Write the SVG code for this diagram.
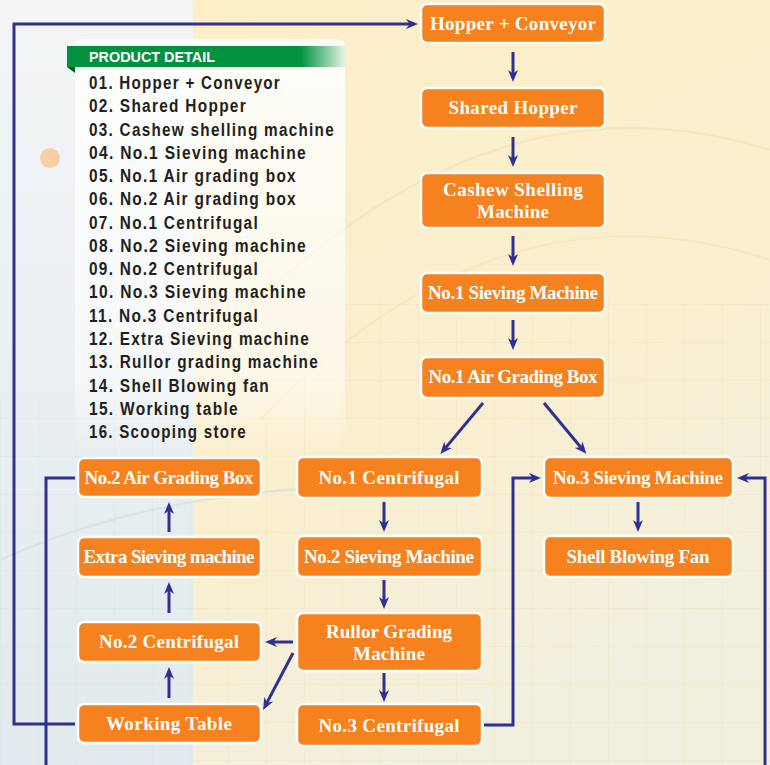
<svg xmlns="http://www.w3.org/2000/svg" width="770" height="765" viewBox="0 0 770 765">
<defs>
<linearGradient id="bgL" x1="0" y1="0" x2="0" y2="1">
<stop offset="0" stop-color="#F3F5F6"/>
<stop offset="0.6" stop-color="#E8EEF1"/>
<stop offset="1" stop-color="#E2EAEE"/>
</linearGradient>
<linearGradient id="bgR" x1="0" y1="0" x2="0.4" y2="1">
<stop offset="0" stop-color="#FDEEC6"/>
<stop offset="0.6" stop-color="#FAEFCF"/>
<stop offset="1" stop-color="#F1F0DF"/>
</linearGradient>
<linearGradient id="panel" x1="0" y1="0" x2="0" y2="1">
<stop offset="0" stop-color="#FFFFFF" stop-opacity="0.9"/>
<stop offset="0.8" stop-color="#FFFFFF" stop-opacity="0.55"/>
<stop offset="1" stop-color="#FFFFFF" stop-opacity="0"/>
</linearGradient>
<linearGradient id="hdr" x1="67" y1="0" x2="345" y2="0" gradientUnits="userSpaceOnUse">
<stop offset="0" stop-color="#00923F"/>
<stop offset="0.84" stop-color="#00923F"/>
<stop offset="1" stop-color="#00923F" stop-opacity="0.1"/>
</linearGradient>
<marker id="ah" markerUnits="userSpaceOnUse" markerWidth="13" markerHeight="11" refX="4" refY="5.5" orient="auto">
<path d="M0,0.5 L12,5.5 L0,10.5 L3.5,5.5 Z" fill="#2E3192"/>
</marker>
<pattern id="grid" width="38" height="38" patternUnits="userSpaceOnUse">
<path d="M38,0 L0,0 L0,38" fill="none" stroke="#D8E2E6" stroke-width="1"/>
</pattern>
<pattern id="gridR" width="38" height="38" patternUnits="userSpaceOnUse">
<path d="M38,0 L0,0 L0,38" fill="none" stroke="#F1E3BC" stroke-width="1"/>
</pattern>
</defs>
<style>
.node rect{fill:#F5821F;stroke:#FFFFFF;stroke-width:2.5}
.node text{font-family:"Liberation Serif",serif;font-weight:bold;font-size:19px;fill:#FFFFFF;text-anchor:middle}
.list text{font-family:"Liberation Sans",Arial,sans-serif;font-weight:bold;font-size:18px;letter-spacing:1.5px;fill:#231F20}
.c line,.c polyline{stroke:#2E3192;stroke-width:3;fill:none}
.c .a{marker-end:url(#ah)}
</style>
<g id="background">
<rect x="0" y="0" width="193" height="765" fill="url(#bgL)"/>
<rect x="193" y="0" width="577" height="765" fill="url(#bgR)"/>
<rect x="0" y="400" width="193" height="365" fill="url(#grid)" opacity="0.7"/>
<rect x="193" y="300" width="577" height="465" fill="url(#gridR)" opacity="0.8"/>
<path d="M220,340 Q480,60 770,150" fill="none" stroke="#F3E2B4" stroke-width="2" opacity="0.7"/>
<path d="M260,420 Q500,170 770,260" fill="none" stroke="#F3E2B4" stroke-width="1.5" opacity="0.6"/>
<path d="M0,560 Q200,470 480,490" fill="none" stroke="#D5DEE2" stroke-width="2" opacity="0.7"/>
<circle cx="50" cy="158" r="10" fill="#F8CFA3"/>
</g>
<g id="product-detail">
<rect x="75" y="39" width="270" height="420" rx="8" fill="url(#panel)"/>
<rect x="67" y="46" width="278" height="21" fill="url(#hdr)"/>
<path d="M67,67 L75,67 L75,73 Z" fill="#005C28"/>
<text x="89" y="62" font-family="Liberation Sans,Arial,sans-serif" font-weight="bold" font-size="14" fill="#FFFFFF" textLength="126" lengthAdjust="spacingAndGlyphs">PRODUCT DETAIL</text>
<g class="list">
<text x="89" y="89" textLength="192" lengthAdjust="spacingAndGlyphs">01. Hopper + Conveyor</text>
<text x="89" y="112.3" textLength="158" lengthAdjust="spacingAndGlyphs">02. Shared Hopper</text>
<text x="89" y="135.5" textLength="246" lengthAdjust="spacingAndGlyphs">03. Cashew shelling machine</text>
<text x="89" y="158.8" textLength="218" lengthAdjust="spacingAndGlyphs">04. No.1 Sieving machine</text>
<text x="89" y="182.1" textLength="208" lengthAdjust="spacingAndGlyphs">05. No.1 Air grading box</text>
<text x="89" y="205.4" textLength="208" lengthAdjust="spacingAndGlyphs">06. No.2 Air grading box</text>
<text x="89" y="228.6" textLength="170" lengthAdjust="spacingAndGlyphs">07. No.1 Centrifugal</text>
<text x="89" y="251.9" textLength="218" lengthAdjust="spacingAndGlyphs">08. No.2 Sieving machine</text>
<text x="89" y="275.2" textLength="170" lengthAdjust="spacingAndGlyphs">09. No.2 Centrifugal</text>
<text x="89" y="298.4" textLength="218" lengthAdjust="spacingAndGlyphs">10. No.3 Sieving machine</text>
<text x="89" y="321.7" textLength="170" lengthAdjust="spacingAndGlyphs">11. No.3 Centrifugal</text>
<text x="89" y="345" textLength="221" lengthAdjust="spacingAndGlyphs">12. Extra Sieving machine</text>
<text x="89" y="368.2" textLength="230" lengthAdjust="spacingAndGlyphs">13. Rullor grading machine</text>
<text x="89" y="391.5" textLength="181" lengthAdjust="spacingAndGlyphs">14. Shell Blowing fan</text>
<text x="89" y="414.8" textLength="150" lengthAdjust="spacingAndGlyphs">15. Working table</text>
<text x="89" y="438" textLength="158" lengthAdjust="spacingAndGlyphs">16. Scooping store</text>
</g>
</g>
<g id="connectors" class="c">
<line class="a" x1="513" y1="52" x2="513" y2="74"/>
<line class="a" x1="513" y1="137" x2="513" y2="159"/>
<line class="a" x1="513" y1="236" x2="513" y2="258"/>
<line class="a" x1="513" y1="320" x2="513" y2="342"/>
<line class="a" x1="483" y1="403" x2="445.5" y2="447.9"/>
<line class="a" x1="544" y1="403" x2="581.2" y2="447.7"/>
<line class="a" x1="384" y1="502" x2="384" y2="524"/>
<line class="a" x1="384" y1="580" x2="384" y2="601"/>
<line class="a" x1="384" y1="673" x2="384" y2="694"/>
<line class="a" x1="638" y1="502" x2="638" y2="524"/>
<line class="a" x1="293" y1="642" x2="273" y2="642"/>
<line class="a" x1="293" y1="653" x2="266.8" y2="702.9"/>
<line class="a" x1="169" y1="698" x2="169" y2="675"/>
<line class="a" x1="169" y1="613" x2="169" y2="590"/>
<line class="a" x1="169" y1="532" x2="169" y2="510"/>
<polyline class="a" points="484,725 513,725 513,478 533,478"/>
<polyline class="a" points="765,765 765,478 745,478"/>
<polyline class="a" points="75,724 14,724 14,24 410,24"/>
<polyline points="75,478 46,478 46,765"/>
</g>
<g id="n1" class="node"><rect x="421" y="4" width="184" height="39" rx="6"/><text x="513" y="30" textLength="166">Hopper + Conveyor</text></g>
<g id="n2" class="node"><rect x="421" y="88" width="184" height="40" rx="6"/><text x="513" y="114" textLength="129">Shared Hopper</text></g>
<g id="n3" class="node"><rect x="421" y="173" width="184" height="55" rx="6"/><text x="513" y="196" textLength="140">Cashew Shelling</text><text x="513" y="218" textLength="72">Machine</text></g>
<g id="n4" class="node"><rect x="421" y="273" width="184" height="40" rx="6"/><text x="513" y="299" textLength="170">No.1 Sieving Machine</text></g>
<g id="n5" class="node"><rect x="421" y="357" width="184" height="41" rx="6"/><text x="513" y="383" textLength="169">No.1 Air Grading Box</text></g>
<g id="n6" class="node"><rect x="78" y="458" width="183" height="39" rx="6"/><text x="169" y="484" textLength="169">No.2 Air Grading Box</text></g>
<g id="n7" class="node"><rect x="297" y="457" width="185" height="41" rx="6"/><text x="389" y="484" textLength="141">No.1 Centrifugal</text></g>
<g id="n8" class="node"><rect x="297" y="536" width="185" height="41" rx="6"/><text x="389" y="563" textLength="170">No.2 Sieving Machine</text></g>
<g id="n9" class="node"><rect x="78" y="622" width="183" height="40" rx="6"/><text x="169" y="648" textLength="140">No.2 Centrifugal</text></g>
<g id="n10" class="node"><rect x="544" y="457" width="189" height="41" rx="6"/><text x="638" y="484" textLength="170">No.3 Sieving Machine</text></g>
<g id="n11" class="node"><rect x="297" y="704" width="185" height="42" rx="6"/><text x="389" y="732" textLength="141">No.3 Centrifugal</text></g>
<g id="n12" class="node"><rect x="78" y="537" width="183" height="40" rx="6"/><text x="169" y="563" textLength="171">Extra Sieving machine</text></g>
<g id="n13" class="node"><rect x="297" y="613" width="185" height="58" rx="6"/><text x="389" y="638" textLength="126">Rullor Grading</text><text x="389" y="660" textLength="72">Machine</text></g>
<g id="n14" class="node"><rect x="544" y="536" width="189" height="41" rx="6"/><text x="638" y="563" textLength="143">Shell Blowing Fan</text></g>
<g id="n15" class="node"><rect x="78" y="704" width="183" height="39" rx="6"/><text x="169" y="730" textLength="126">Working Table</text></g>
</svg>
